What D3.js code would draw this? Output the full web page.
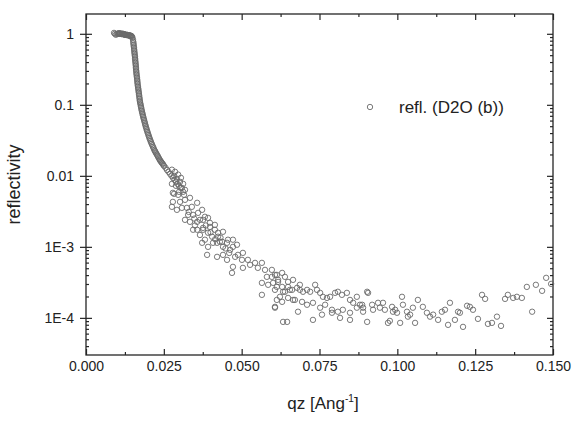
<!DOCTYPE html>
<html>
<head>
<meta charset="utf-8">
<script src="https://cdn.jsdelivr.net/npm/d3@7"></script>
<style>
  body { margin: 0; background: #fff; }
  svg { display: block; font-family: Arial, "Liberation Sans", sans-serif; }
  .axis text { font-size: 14px; fill: #222; }
  .axis line { stroke: #262626; stroke-width: 1.2; }
  .axis path.domain { display: none; }
</style>
</head>
<body>
<svg></svg>
<script>
// [qz, reflectivity]
// total reflection plateau
const plateau = [
  [0.0090, 1.03], [0.0093, 1.0], [0.0096, 0.968], [0.0100, 1.0], [0.0103, 1.0],
  [0.0106, 1.02], [0.0109, 1.0], [0.0112, 1.0], [0.0116, 0.984], [0.0119, 1.0],
  [0.0122, 0.984], [0.0125, 0.968], [0.0128, 0.968], [0.0132, 0.968], [0.0135, 0.953],
  [0.0138, 0.953], [0.0141, 0.937], [0.0145, 0.937], [0.0148, 0.907], [0.0149, 0.878],
  [0.0151, 0.823], [0.0104, 1.01], [0.0107, 1.0], [0.0110, 1.01], [0.0114, 1.0],
  [0.0117, 1.0], [0.0121, 0.99], [0.0124, 0.975], [0.0127, 0.97], [0.0130, 0.96],
  [0.0133, 0.96], [0.0137, 0.955], [0.0140, 0.945], [0.0143, 0.94], [0.0146, 0.925]
]

// critical edge and the steep fall off
const edge = [
  [0.01519, 0.771], [0.01529, 0.700], [0.01542, 0.635], [0.01551, 0.576], [0.01561, 0.523],
  [0.01574, 0.474], [0.01580, 0.430], [0.01590, 0.390], [0.01600, 0.354], [0.01606, 0.321],
  [0.01616, 0.292], [0.01625, 0.265], [0.01638, 0.240], [0.01648, 0.218], [0.01657, 0.198],
  [0.01670, 0.179], [0.01683, 0.163], [0.01696, 0.148], [0.01709, 0.134], [0.01722, 0.121],
  [0.01734, 0.110], [0.01754, 0.100], [0.01773, 0.0907], [0.01792, 0.0823], [0.01815, 0.0747],
  [0.01837, 0.0678], [0.01863, 0.0615], [0.01889, 0.0558], [0.01914, 0.0506], [0.01943, 0.0459],
  [0.01972, 0.0417], [0.02004, 0.0378], [0.02036, 0.0343], [0.02072, 0.0311], [0.02110, 0.0282],
  [0.02152, 0.0256], [0.02194, 0.0232], [0.02236, 0.0214], [0.02281, 0.0198], [0.02325, 0.0182],
  [0.02370, 0.0168], [0.02415, 0.0157], [0.02460, 0.0148], [0.02505, 0.0138], [0.02554, 0.0130],
  [0.02602, 0.0121], [0.02650, 0.0114], [0.02698, 0.0107], [0.02746, 0.0100], [0.02794, 0.00937],
  [0.02843, 0.00878], [0.02891, 0.00823], [0.02939, 0.00771], [0.02987, 0.00723], [0.03035, 0.00678]
]

// the chain is continuous in the picture: readings in between
const edgeFine = [
  [0.01524, 0.735], [0.01535, 0.667], [0.01546, 0.605], [0.01556, 0.549], [0.01567, 0.498],
  [0.01577, 0.451], [0.01585, 0.410], [0.01595, 0.372], [0.01603, 0.337], [0.01611, 0.306],
  [0.01620, 0.278], [0.01631, 0.252], [0.01643, 0.229], [0.01652, 0.208], [0.01663, 0.188],
  [0.01676, 0.171], [0.01690, 0.155], [0.01702, 0.141], [0.01715, 0.127], [0.01728, 0.115],
  [0.01744, 0.105], [0.01763, 0.0952], [0.01782, 0.0864], [0.01803, 0.0784], [0.01826, 0.0712],
  [0.01850, 0.0646], [0.01876, 0.0586], [0.01901, 0.0531], [0.01928, 0.0482], [0.01957, 0.0437],
  [0.01988, 0.0397], [0.02020, 0.0360], [0.02054, 0.0327], [0.02091, 0.0296], [0.02131, 0.0269],
  [0.02173, 0.0244], [0.02215, 0.0223], [0.02258, 0.0206], [0.02303, 0.0190], [0.02348, 0.0175],
  [0.02392, 0.0162], [0.02437, 0.0152], [0.02483, 0.0143]
]

// noisy band 0.027 - 0.07
const band = [
  [0.0276, 0.0122], [0.0286, 0.0114], [0.0296, 0.0104], [0.0305, 0.00937], [0.0283, 0.0100],
  [0.0292, 0.00907], [0.0302, 0.00823], [0.0312, 0.00771], [0.0289, 0.00723], [0.0308, 0.00677],
  [0.0318, 0.00635], [0.0276, 0.00771], [0.0299, 0.00595], [0.0315, 0.00540], [0.0283, 0.00558],
  [0.0279, 0.00576], [0.0296, 0.00540], [0.0312, 0.00595], [0.0279, 0.00430], [0.0302, 0.00430],
  [0.0318, 0.00459], [0.0334, 0.00490], [0.0308, 0.00354], [0.0324, 0.00354], [0.0340, 0.00366],
  [0.0357, 0.00417], [0.0328, 0.00282], [0.0344, 0.00282], [0.0360, 0.00301], [0.0373, 0.00332],
  [0.0334, 0.00225], [0.0357, 0.00225], [0.0376, 0.00240], [0.0392, 0.00256], [0.0357, 0.00174],
  [0.0376, 0.00185], [0.0398, 0.00191], [0.0414, 0.00204], [0.0382, 0.00126], [0.0405, 0.00139],
  [0.0424, 0.00158], [0.0440, 0.00163], [0.0421, 0.00114], [0.0437, 0.00118], [0.0456, 0.00126],
  [0.0472, 0.00126], [0.0485, 0.00107], [0.0276, 0.00366], [0.0292, 0.00332],
  [0.0366, 0.00240], [0.0382, 0.00265], [0.0398, 0.00218], [0.0376, 0.00174], [0.0392, 0.00158],
  [0.0414, 0.00174], [0.0424, 0.00139], [0.0373, 0.00114], [0.0392, 0.00100], [0.0408, 0.00114],
  [0.0430, 0.00118], [0.0440, 0.00100], [0.0453, 0.00114], [0.0463, 0.000907], [0.0472, 0.00100],
  [0.0421, 0.000723], [0.0389, 0.000771], [0.0440, 0.000771], [0.0453, 0.000656], [0.0479, 0.000723],
  [0.0488, 0.000771], [0.0501, 0.000656], [0.0504, 0.000823], [0.0520, 0.000656], [0.0527, 0.000558],
  [0.0472, 0.000523], [0.0469, 0.000430], [0.0504, 0.000506], [0.0543, 0.000595], [0.0552, 0.000506],
  [0.0565, 0.000595], [0.0575, 0.000474], [0.0581, 0.000378], [0.0597, 0.000474], [0.0607, 0.000403],
  [0.0617, 0.000343], [0.0630, 0.000430], [0.0639, 0.000378], [0.0649, 0.000321], [0.0585, 0.000292],
  [0.0565, 0.000311], [0.0613, 0.000273], [0.0633, 0.000233], [0.0655, 0.000248], [0.0623, 0.000198],
  [0.0565, 0.000211], [0.0607, 0.000143], [0.0665, 0.000343], [0.0662, 0.000248], [0.0678, 0.000265],
  [0.0687, 0.000248], [0.0665, 0.000179], [0.0344, 0.00174], [0.0366, 0.00147], [0.0318, 0.00240],
  [0.0350, 0.00200], [0.0330, 0.00310], [0.0348, 0.00250], [0.0385, 0.00200], [0.0400, 0.00160],
  [0.0415, 0.00128], [0.0432, 0.00135], [0.0448, 0.00095], [0.0460, 0.00082]
]

// background tail 0.06 - 0.15
const tail = [
  [0.0597, 0.000378], [0.0613, 0.000403], [0.0601, 0.000311], [0.0617, 0.000321], [0.0607, 0.000248],
  [0.0630, 0.000273], [0.0639, 0.000233], [0.0649, 0.000273], [0.0687, 0.000292], [0.0697, 0.000233],
  [0.0710, 0.000248], [0.0720, 0.000233], [0.0736, 0.000292], [0.0742, 0.000248], [0.0752, 0.000225],
  [0.0761, 0.000198], [0.0774, 0.000191], [0.0784, 0.000198], [0.0800, 0.000225], [0.0809, 0.000233],
  [0.0822, 0.000211], [0.0838, 0.000225], [0.0848, 0.000179], [0.0858, 0.000163], [0.0870, 0.000198],
  [0.0887, 0.000153], [0.0903, 0.000233], [0.0613, 0.000179], [0.0630, 0.000168], [0.0649, 0.000191],
  [0.0671, 0.000179], [0.0694, 0.000168], [0.0710, 0.000153], [0.0729, 0.000163], [0.0752, 0.000139],
  [0.0768, 0.000153], [0.0790, 0.000130], [0.0809, 0.000122], [0.0825, 0.000130], [0.0848, 0.000118],
  [0.0870, 0.000139], [0.0890, 0.000122], [0.0633, 0.0000878], [0.0646, 0.0000878], [0.0729, 0.0000937],
  [0.0848, 0.0000937], [0.0903, 0.0000878], [0.0607, 0.000139], [0.0681, 0.000122], [0.0758, 0.000111],
  [0.0790, 0.000118], [0.0816, 0.000100],
  [0.0906, 0.000225], [0.1015, 0.000198], [0.0880, 0.000153], [0.0890, 0.000139], [0.0919, 0.000153],
  [0.0922, 0.000130], [0.0938, 0.000163], [0.0944, 0.000139], [0.0954, 0.000163], [0.0960, 0.000130],
  [0.0983, 0.000143], [0.0986, 0.000122], [0.0999, 0.000118], [0.1018, 0.000153], [0.1031, 0.000122],
  [0.1041, 0.000111], [0.1050, 0.000139], [0.1066, 0.000179], [0.1082, 0.000143], [0.1095, 0.000118],
  [0.1105, 0.000104], [0.1115, 0.000111], [0.1131, 0.0000937], [0.1143, 0.000122], [0.1153, 0.000130],
  [0.1169, 0.000163], [0.1163, 0.0000797], [0.0970, 0.0000850], [0.0976, 0.0000907], [0.1009, 0.0000850],
  [0.1057, 0.0000850], [0.1185, 0.0000937], [0.1195, 0.000122], [0.0993, 0.000130], [0.1034, 0.000104],
  [0.1201, 0.000118], [0.1211, 0.0000747], [0.1224, 0.000148], [0.1233, 0.000143], [0.1243, 0.000130],
  [0.1259, 0.0000968], [0.1272, 0.000211], [0.1282, 0.000185], [0.1291, 0.0000823], [0.1304, 0.0000850],
  [0.1320, 0.000104], [0.1333, 0.0000771], [0.1346, 0.000185], [0.1355, 0.000211], [0.1372, 0.000191],
  [0.1384, 0.000198], [0.1400, 0.000191], [0.1416, 0.000273], [0.1433, 0.000122], [0.1445, 0.000292],
  [0.1465, 0.000240], [0.1478, 0.000366], [0.1494, 0.000301]
]

// ticks
const xMajor = [0, 0.025, 0.05, 0.075, 0.1, 0.125, 0.15]
const xMinor = [0.0125, 0.0375, 0.0625, 0.0875, 0.1125, 0.1375]
const yMajor = [1, 0.1, 0.01, 1e-3, 1e-4]
const yTickLabels = ["1", "0.1", "0.01", "1E-3", "1E-4"]
const yMinor = [0.9, 0.8, 0.7, 0.6, 0.5, 0.4, 0.3, 0.2,
  0.09, 0.08, 0.07, 0.06, 0.05, 0.04, 0.03, 0.02,
  0.009, 0.008, 0.007, 0.006, 0.005, 0.004, 0.003, 0.002,
  9e-4, 8e-4, 7e-4, 6e-4, 5e-4, 4e-4, 3e-4, 2e-4,
  9e-5, 8e-5, 7e-5, 6e-5, 5e-5, 4e-5]

const legendLabel = "refl. (D2O (b))"

const svg = d3.select("svg")
  .attr("width", 572)
  .attr("height", 421)

const m = { left: 86, right: 553, top: 14, bottom: 355 }

const x = d3.scaleLinear()
  .domain([0, 0.15])
  .range([m.left, m.right])

const y = d3.scaleLog()
  .domain([3e-5, 1.9])
  .range([m.bottom, m.top])

// bottom axis: labels + inward ticks
svg.append("g").attr("class", "axis")
  .attr("transform", `translate(0,${m.bottom})`)
  .call(d3.axisBottom(x).tickValues(xMajor).tickFormat(d3.format(".3f"))
    .tickSizeInner(-6).tickSizeOuter(0).tickPadding(6))

svg.append("g").attr("class", "axis")
  .attr("transform", `translate(0,${m.bottom})`)
  .call(d3.axisBottom(x).tickValues(xMinor).tickFormat("").tickSize(-3))

// top axis, mirrored
svg.append("g").attr("class", "axis")
  .attr("transform", `translate(0,${m.top})`)
  .call(d3.axisTop(x).tickValues(xMajor).tickFormat("").tickSize(-6))

svg.append("g").attr("class", "axis")
  .attr("transform", `translate(0,${m.top})`)
  .call(d3.axisTop(x).tickValues(xMinor).tickFormat("").tickSize(-3))

// left axis: outward majors with labels, inward majors + minors
svg.append("g").attr("class", "axis")
  .attr("transform", `translate(${m.left},0)`)
  .call(d3.axisLeft(y).tickValues(yMajor)
    .tickFormat((d, i) => yTickLabels[i])
    .tickSizeInner(6).tickSizeOuter(0).tickPadding(6))

svg.append("g").attr("class", "axis")
  .attr("transform", `translate(${m.left},0)`)
  .call(d3.axisRight(y).tickValues(yMajor).tickFormat("").tickSize(6))

svg.append("g").attr("class", "axis")
  .attr("transform", `translate(${m.left},0)`)
  .call(d3.axisRight(y).tickValues(yMinor).tickFormat("").tickSize(3))

// right axis, mirrored
svg.append("g").attr("class", "axis")
  .attr("transform", `translate(${m.right},0)`)
  .call(d3.axisLeft(y).tickValues(yMajor).tickFormat("").tickSize(6))

svg.append("g").attr("class", "axis")
  .attr("transform", `translate(${m.right},0)`)
  .call(d3.axisLeft(y).tickValues(yMinor).tickFormat("").tickSize(3))

// frame
svg.append("rect")
  .attr("x", m.left)
  .attr("y", m.top)
  .attr("width", m.right - m.left)
  .attr("height", m.bottom - m.top)
  .style("fill", "none")
  .style("stroke", "#262626")
  .style("stroke-width", 1.3)

// data points
const points = plateau.concat(edge, edgeFine, band, tail)

svg.append("g")
  .selectAll("circle")
  .data(points)
  .enter()
  .append("circle")
  .attr("cx", d => x(d[0]))
  .attr("cy", d => y(d[1]))
  .attr("r", 2.7)
  .style("fill", "none")
  .style("stroke", "#6a6a6a")
  .style("stroke-width", 0.9)

// legend
svg.append("circle")
  .attr("cx", 370)
  .attr("cy", 107)
  .attr("r", 2.7)
  .style("fill", "none")
  .style("stroke", "#6a6a6a")
  .style("stroke-width", 0.9)

svg.append("text")
  .attr("x", 399)
  .attr("y", 113)
  .style("font-size", "17px")
  .style("fill", "#222")
  .text(legendLabel)

// axis titles
const xTitle = svg.append("text")
  .attr("x", 323)
  .attr("y", 409)
  .attr("text-anchor", "middle")
  .style("font-size", "17px")
  .style("fill", "#222")

xTitle.append("tspan").text("qz [Ang")
xTitle.append("tspan").attr("dy", -7).style("font-size", "10px").text("-1")
xTitle.append("tspan").attr("dy", 7).text("]")

svg.append("text")
  .attr("transform", `translate(20,${(m.top + m.bottom) / 2}) rotate(-90)`)
  .attr("text-anchor", "middle")
  .style("font-size", "18px")
  .style("fill", "#222")
  .text("reflectivity")
</script>
</body>
</html>
